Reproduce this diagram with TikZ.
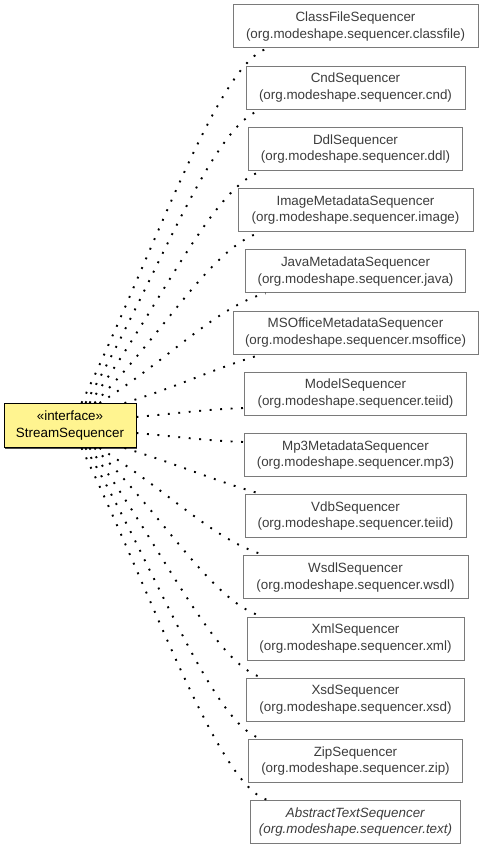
\documentclass[tikz,border=0pt]{standalone}
\usepackage{fontspec}
\setmainfont{Liberation Sans}
\usetikzlibrary{calc,shadows}
\definecolor{boxline}{HTML}{7A7A7A}
\definecolor{boxtext}{HTML}{3C3C3C}
\definecolor{ifacefill}{HTML}{FFF490}
\tikzset{
  cls/.style={draw=boxline, line width=1pt, text=boxtext, minimum height=43pt,
    inner sep=0pt, align=center, font=\fontsize{13.4}{16.5}\selectfont},
  iface/.style={draw=black, line width=1pt, fill=ifacefill, minimum width=132pt,
    minimum height=44pt, inner sep=0pt, align=center,
    font=\fontsize{13.4}{16.5}\selectfont,
    drop shadow={shadow xshift=1pt, shadow yshift=-1pt, fill=black, opacity=0.7}},
  dep/.style={line width=1.9pt, dash pattern=on 1.9pt off 8.6pt, black}
}
\begin{document}
\begin{tikzpicture}[x=1pt,y=-1pt]
\useasboundingbox (0,0) rectangle (485,851);
\node[iface] (sq) at (70,425.5) {«interface»\\StreamSequencer};
\node[cls, minimum width=245pt] (n1) at (355.5,26.5) {ClassFileSequencer\\(org.modeshape.sequencer.classfile)};
\node[cls, minimum width=219pt] (n2) at (355.5,87.7) {CndSequencer\\(org.modeshape.sequencer.cnd)};
\node[cls, minimum width=214pt] (n3) at (355.5,148.9) {DdlSequencer\\(org.modeshape.sequencer.ddl)};
\node[cls, minimum width=235pt] (n4) at (355.5,210.1) {ImageMetadataSequencer\\(org.modeshape.sequencer.image)};
\node[cls, minimum width=220pt] (n5) at (355.5,271.3) {JavaMetadataSequencer\\(org.modeshape.sequencer.java)};
\node[cls, minimum width=245pt] (n6) at (355.5,332.5) {MSOfficeMetadataSequencer\\(org.modeshape.sequencer.msoffice)};
\node[cls, minimum width=222pt] (n7) at (355.5,393.7) {ModelSequencer\\(org.modeshape.sequencer.teiid)};
\node[cls, minimum width=222pt] (n8) at (355.5,454.9) {Mp3MetadataSequencer\\(org.modeshape.sequencer.mp3)};
\node[cls, minimum width=221pt] (n9) at (355.5,516.1) {VdbSequencer\\(org.modeshape.sequencer.teiid)};
\node[cls, minimum width=225pt] (n10) at (355.5,577.3) {WsdlSequencer\\(org.modeshape.sequencer.wsdl)};
\node[cls, minimum width=217pt] (n11) at (355.5,638.5) {XmlSequencer\\(org.modeshape.sequencer.xml)};
\node[cls, minimum width=218pt] (n12) at (355.5,699.7) {XsdSequencer\\(org.modeshape.sequencer.xsd)};
\node[cls, minimum width=214pt] (n13) at (355.5,760.9) {ZipSequencer\\(org.modeshape.sequencer.zip)};
\node[cls, minimum width=210pt] (n14) at (355.5,822.1) {\textit{AbstractTextSequencer}\\\textit{(org.modeshape.sequencer.text)}};
% upper connectors
\draw[dep] ($(sq.north west)+(78,0)$) .. controls (150,262) and (218,62) .. ($(n1.south west)+(35,0)$);
\draw[dep] ($(sq.north west)+(82,0)$) .. controls (154,286) and (212,123) .. ($(n2.south west)+(16,0)$);
\draw[dep] ($(sq.north west)+(86,0)$) .. controls (158,311) and (213,185) .. ($(n3.south west)+(14.5,0)$);
\draw[dep] ($(sq.north west)+(91,0)$) .. controls (163,335) and (212,246) .. ($(n4.south west)+(24,0)$);
\draw[dep] ($(sq.north west)+(96,0)$) .. controls (168,360) and (216,307) .. ($(n5.south west)+(20.5,0)$);
\draw[dep] ($(sq.north west)+(121,0)$) .. controls (180,386) and (215,368) .. ($(n6.south west)+(29,0)$);
\draw[dep] ($(sq.east)+(0,-8.5)$) .. controls (170,414) and (210,409) .. ($(n7.west)+(0,14.3)$);
\draw[dep] ($(sq.east)+(0,7.5)$) .. controls (170,436) and (210,441) .. ($(n8.west)+(0,-12.9)$);
% lower connectors
\draw[dep] ($(sq.south west)+(121,0)$) .. controls (180,465) and (215,481) .. ($(n9.north west)+(17,0)$);
\draw[dep] ($(sq.south west)+(96,0)$) .. controls (168,491) and (216,542) .. ($(n10.north west)+(23,0)$);
\draw[dep] ($(sq.south west)+(91,0)$) .. controls (163,515) and (213,603) .. ($(n11.north west)+(16,0)$);
\draw[dep] ($(sq.south west)+(86,0)$) .. controls (158,539) and (213,664) .. ($(n12.north west)+(16.5,0)$);
\draw[dep] ($(sq.south west)+(82,0)$) .. controls (154,564) and (212,725) .. ($(n13.north west)+(13.5,0)$);
\draw[dep] ($(sq.south west)+(78,0)$) .. controls (150,589) and (218,787) .. ($(n14.north west)+(18,0)$);
\end{tikzpicture}
\end{document}
